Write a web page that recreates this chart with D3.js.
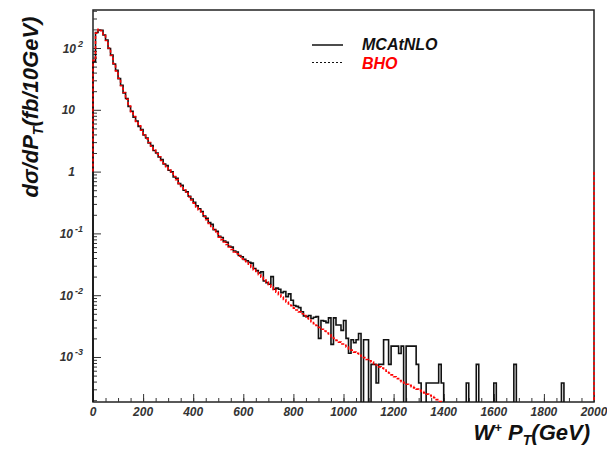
<!DOCTYPE html>
<meta charset="UTF-8">
<head>
<script src="https://d3js.org/d3.v7.min.js"></script>
<style>
  body { margin: 0; background: #fff; }
  text { font-family: "Liberation Sans", Arial, sans-serif; font-style: italic; }
  .tick-label { font-size: 12px; font-weight: bold; fill: #333; }
  .title { font-size: 22px; font-weight: bold; fill: #111; }
  .legend { font-size: 16px; font-weight: bold; }
</style>
</head>
<body>
<script>
// histogram binning: 10 GeV bins from 0 to 2000 GeV
var binWidth = 10;

// MC@NLO (black, solid) - fb per 10 GeV
var mcatnlo = [
  60, 178, 196, 194, 162, 135, 98, 77, 55, 43.5,
  32, 25, 18.8, 15.2, 11.3, 9.5, 7.6, 6.6, 5.4, 4.8,
  3.9, 3.5, 2.9, 2.65, 2.2, 2.0, 1.72, 1.56, 1.33, 1.25,
  1.05, 0.99, 0.82, 0.78, 0.64, 0.60, 0.50, 0.47, 0.40, 0.36,
  0.32, 0.28, 0.25, 0.225, 0.19, 0.175, 0.15, 0.14, 0.115, 0.108,
  0.090, 0.086, 0.075, 0.072, 0.062, 0.060, 0.052, 0.050, 0.044, 0.042,
  0.038, 0.036, 0.034, 0.033, 0.027, 0.025, 0.023, 0.024, 0.017, 0.016,
  0.015, 0.020, 0.0125, 0.013, 0.0125, 0.011, 0.0115, 0.0095, 0.0105, 0.0083,
  0.0068, 0.0066, 0.0063, 0.0054, 0.0046, 0.0045, 0.0047, 0.0042, 0.0044, 0.0045,
  0.0020, 0.0039, 0.0038, 0.0036, 0.0043, 0.0016, 0.0043, 0.0033, 0.0033, 0.0027,
  0.0039, 0.0020, 0.00115, 0.0019, 0.0017, 0.0019, 0.0024, 0, 0.0019, 0.0019,
  0, 0.00076, 0.00076, 0.00038, 0.00076, 0.00076, 0.0019, 0.0019, 0.00076, 0.0015,
  0.0015, 0.0015, 0.00114, 0.0015, 0, 0.0015, 0.0015, 0.0015, 0.0015, 0.00076,
  0.00038, 0, 0, 0.00038, 0.00038, 0.00038, 0.00038, 0.00038, 0.00076, 0.00038,
  0, 0, 0, 0, 0, 0, 0, 0, 0, 0.00038,
  0, 0, 0, 0.00076, 0, 0, 0, 0, 0, 0,
  0.00038, 0, 0, 0, 0, 0, 0, 0, 0.00076, 0,
  0, 0, 0, 0, 0, 0, 0, 0, 0, 0,
  0, 0, 0, 0, 0, 0, 0, 0.00038, 0, 0,
  0, 0, 0, 0, 0, 0, 0, 0, 0, 0
];

// BHO (red, dotted)
var bho = [
  63, 174, 200, 191, 166, 132, 100, 75.9, 56.2, 42.7,
  32.4, 24.5, 19.1, 14.8, 11.5, 9.33, 7.76, 6.46, 5.50, 4.68,
  3.98, 3.39, 2.95, 2.57, 2.24, 1.95, 1.74, 1.51, 1.35, 1.20,
  1.07, 0.955, 0.832, 0.741, 0.646, 0.575, 0.501, 0.447, 0.389, 0.347,
  0.309, 0.269, 0.240, 0.214, 0.186, 0.166, 0.145, 0.129, 0.112, 0.100,
  0.0871, 0.0794, 0.0724, 0.0661, 0.0603, 0.0550, 0.0501, 0.0468, 0.0427, 0.0389,
  0.0363, 0.0339, 0.0309, 0.0282, 0.0257, 0.0234, 0.0214, 0.0195, 0.0178, 0.0162,
  0.0148, 0.0135, 0.0123, 0.0112, 0.0102, 0.00933, 0.00851, 0.00776, 0.00724, 0.00676,
  0.00617, 0.00575, 0.00537, 0.00501, 0.00468, 0.00427, 0.00398, 0.00372, 0.00347, 0.00324,
  0.00302, 0.00282, 0.00263, 0.00245, 0.00229, 0.00214, 0.00200, 0.00186, 0.00174, 0.00162,
  0.00155, 0.00145, 0.00135, 0.00129, 0.00120, 0.00115, 0.00107, 0.00102, 0.000977, 0.000912,
  0.000871, 0.000832, 0.000776, 0.000741, 0.000692, 0.000661, 0.000617, 0.000589, 0.000550, 0.000513,
  0.000479, 0.000447, 0.000417, 0.000398, 0.000380, 0.000363, 0.000347, 0.000331, 0.000316, 0.000302,
  0.000288, 0.000275, 0.000263, 0.000251, 0.000240, 0.000229, 0.000219, 0.000204, 0.000191, 0,
  0, 0, 0, 0, 0, 0, 0, 0, 0, 0,
  0, 0, 0, 0, 0, 0, 0, 0, 0, 0,
  0, 0, 0, 0, 0, 0, 0, 0, 0, 0,
  0, 0, 0, 0, 0, 0, 0, 0, 0, 0,
  0, 0, 0, 0, 0, 0, 0, 0, 0, 0,
  0, 0, 0, 0, 0, 0, 0, 0, 0, 0
];

var xTicks = [0, 200, 400, 600, 800, 1000, 1200, 1400, 1600, 1800, 2000];
var yTicks = [1e-3, 1e-2, 1e-1, 1, 10, 100];
var yLabels = [["10", "-3"], ["10", "-2"], ["10", "-1"], ["1", ""], ["10", ""], ["10", "2"]];

var width = 607, height = 462;
var plot = { left: 93, right: 594, top: 10, bottom: 402 };

var svg = d3.select("body").append("svg")
    .attr("width", width)
    .attr("height", height);

var x = d3.scaleLinear().domain([0, 2000]).range([plot.left, plot.right]);
var y = d3.scaleLog().domain([1.87e-4, 412]).range([plot.bottom, plot.top]);

// frame
svg.append("rect")
    .attr("x", plot.left).attr("y", plot.top)
    .attr("width", plot.right - plot.left).attr("height", plot.bottom - plot.top)
    .attr("fill", "none").attr("stroke", "#222").attr("stroke-width", 1.5);

// x axis ticks (inward)
var minorX = d3.range(0, 2001, 50);
svg.append("g")
    .attr("transform", "translate(0," + plot.bottom + ")")
    .call(d3.axisBottom(x).tickValues(minorX).tickSize(-4).tickFormat(""))
    .call(function (g) { g.select(".domain").remove(); g.selectAll("line").attr("stroke", "#333"); });
svg.append("g")
    .attr("transform", "translate(0," + plot.bottom + ")")
    .call(d3.axisBottom(x).tickValues(xTicks).tickSize(-8).tickFormat(""))
    .call(function (g) { g.select(".domain").remove(); g.selectAll("line").attr("stroke", "#333"); });

svg.selectAll(".xlab").data(xTicks).enter().append("text")
    .attr("class", "tick-label")
    .attr("x", function (d) { return x(d); })
    .attr("y", 416)
    .attr("text-anchor", "middle")
    .text(function (d) { return d; });

// y axis ticks (inward)
var minorY = [];
[-4, -3, -2, -1, 0, 1, 2].forEach(function (e) {
    for (var m = 2; m <= 9; m++) {
        var v = m * Math.pow(10, e);
        if (v > y.domain()[0] && v < y.domain()[1]) minorY.push(v);
    }
});
svg.append("g")
    .attr("transform", "translate(" + plot.left + ",0)")
    .call(d3.axisLeft(y).tickValues(minorY).tickSize(-4).tickFormat(""))
    .call(function (g) { g.select(".domain").remove(); g.selectAll("line").attr("stroke", "#333"); });
svg.append("g")
    .attr("transform", "translate(" + plot.left + ",0)")
    .call(d3.axisLeft(y).tickValues(yTicks).tickSize(-8).tickFormat(""))
    .call(function (g) { g.select(".domain").remove(); g.selectAll("line").attr("stroke", "#333"); });

yTicks.forEach(function (v, i) {
    var lab = yLabels[i];
    var t = svg.append("text")
        .attr("class", "tick-label")
        .attr("x", lab[1] ? 83 : 75)
        .attr("y", y(v) + 4.5)
        .attr("text-anchor", "end");
    t.append("tspan").text(lab[0]);
    if (lab[1]) {
        t.append("tspan").attr("dx", 2).attr("dy", -6).style("font-size", "9px").text(lab[1]);
    }
});

// histograms
svg.append("clipPath").attr("id", "clip")
    .append("rect")
    .attr("x", plot.left - 2).attr("y", plot.top)
    .attr("width", plot.right - plot.left + 4).attr("height", plot.bottom - plot.top);

var floorVal = 1e-5;
function histPath(vals, base) {
    var pts = [[0, base]];
    vals.forEach(function (v, i) {
        pts.push([i * binWidth, v > 0 ? v : floorVal]);
        pts.push([(i + 1) * binWidth, v > 0 ? v : floorVal]);
    });
    pts.push([vals.length * binWidth, base]);
    return d3.line()
        .x(function (d) { return x(d[0]); })
        .y(function (d) { return y(d[1]); })(pts);
}

var hg = svg.append("g").attr("clip-path", "url(#clip)");
hg.append("path")
    .attr("d", histPath(mcatnlo, floorVal))
    .attr("fill", "none").attr("stroke", "#111").attr("stroke-width", 1.6);
hg.append("path")
    .attr("d", histPath(bho, 1))
    .attr("fill", "none").attr("stroke", "#ff0000").attr("stroke-width", 1.6)
    .attr("stroke-dasharray", "3,2");

// legend
var legend = svg.append("g");
legend.append("line").attr("x1", 312).attr("x2", 343).attr("y1", 45).attr("y2", 45)
    .attr("stroke", "#111").attr("stroke-width", 1.5);
legend.append("line").attr("x1", 312).attr("x2", 343).attr("y1", 62.5).attr("y2", 62.5)
    .attr("stroke", "#111").attr("stroke-width", 1).attr("stroke-dasharray", "2,2");
legend.append("text").attr("class", "legend").attr("x", 362).attr("y", 50)
    .attr("fill", "#111").text("MCAtNLO");
legend.append("text").attr("class", "legend").attr("x", 362).attr("y", 69)
    .attr("fill", "#ff0000").text("BHO");

// axis titles
var xt = svg.append("text").attr("class", "title")
    .attr("x", 590).attr("y", 440).attr("text-anchor", "end");
xt.append("tspan").text("W");
xt.append("tspan").attr("dy", -8).style("font-size", "13px").text("+");
xt.append("tspan").attr("dy", 8).text(" P");
xt.append("tspan").attr("dy", 5).style("font-size", "14px").text("T");
xt.append("tspan").attr("dy", -5).text("(GeV)");

var yt = svg.append("text").attr("class", "title")
    .attr("transform", "translate(38,107) rotate(-90)")
    .attr("text-anchor", "middle");
yt.append("tspan").text("d\u03c3/dP");
yt.append("tspan").attr("dy", 5).style("font-size", "14px").text("T");
yt.append("tspan").attr("dy", -5).text("(fb/10GeV)");
</script>
</body>
